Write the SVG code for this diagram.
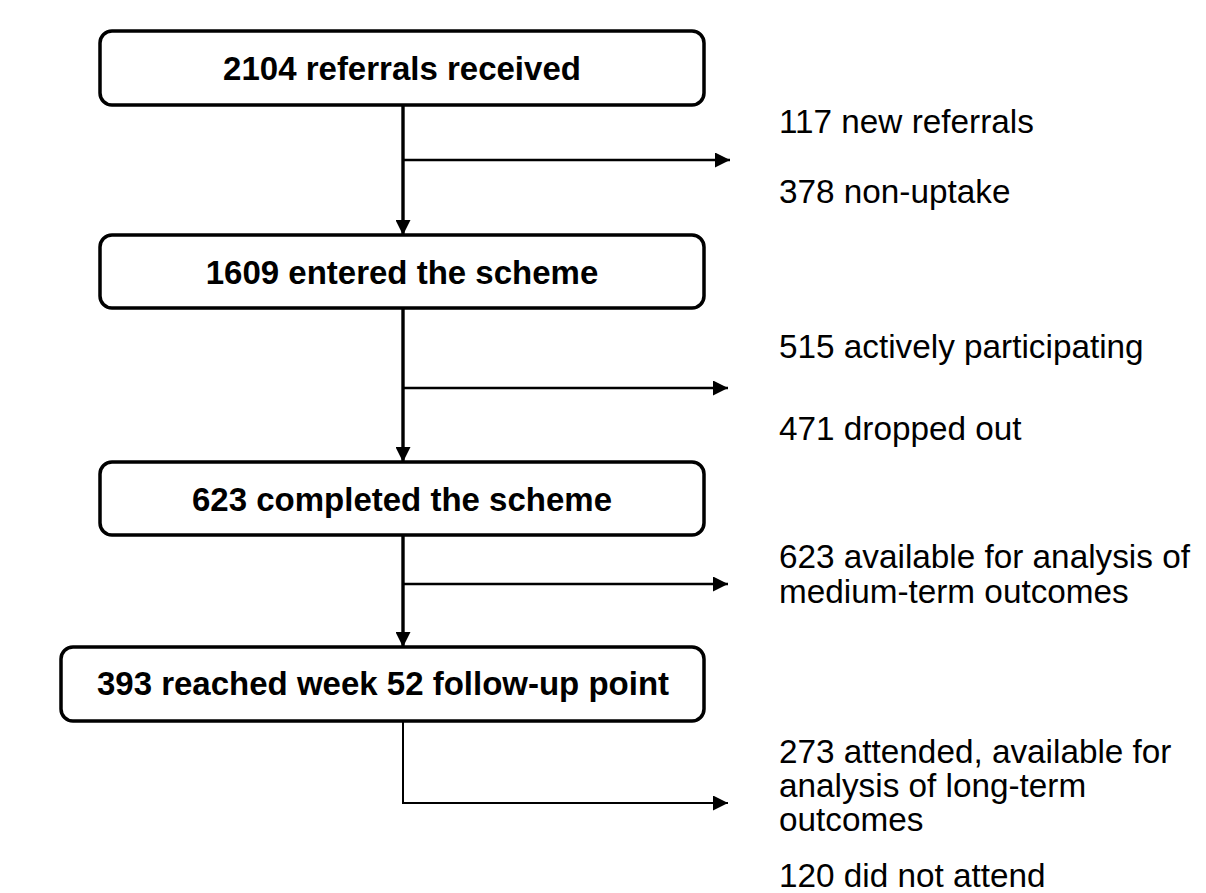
<svg xmlns="http://www.w3.org/2000/svg" width="1206" height="893" viewBox="0 0 1206 893">
  <defs>
    <marker id="arrow" viewBox="0 0 10 10" refX="10" refY="5" markerWidth="16" markerHeight="15" markerUnits="userSpaceOnUse" orient="auto">
      <path d="M0,0 L10,5 L0,10 Z" fill="#000"/>
    </marker>
    <style>
      .box { fill: #fff; stroke: #000; stroke-width: 3.5; }
      .title { font-family: "Liberation Sans", Arial, sans-serif; font-weight: bold; font-size: 33px; fill: #000; text-anchor: middle; }
      .label { font-family: "Liberation Sans", Arial, sans-serif; font-size: 33.3px; fill: #000; }
      .down { stroke: #000; stroke-width: 3.4; fill: none; }
      .side { stroke: #000; stroke-width: 2.6; fill: none; }
      .thin { stroke: #000; stroke-width: 2; fill: none; }
    </style>
  </defs>
  <rect width="1206" height="893" fill="#fff"/>

  <!-- connectors -->
  <g id="connectors">
    <line class="down" x1="403" y1="105" x2="403" y2="235" marker-end="url(#arrow)"/>
    <line class="side" x1="403" y1="160" x2="730" y2="160" marker-end="url(#arrow)"/>
    <line class="down" x1="403" y1="308" x2="403" y2="462" marker-end="url(#arrow)"/>
    <line class="side" x1="403" y1="388" x2="728" y2="388" marker-end="url(#arrow)"/>
    <line class="down" x1="403" y1="535" x2="403" y2="647" marker-end="url(#arrow)"/>
    <line class="side" x1="403" y1="584" x2="728" y2="584" marker-end="url(#arrow)"/>
    <polyline class="thin" points="403,721 403,803 728,803" marker-end="url(#arrow)"/>
  </g>

  <!-- main flow boxes -->
  <g id="node-referrals">
    <rect class="box" x="100" y="31" width="604" height="74" rx="12"/>
    <text class="title" x="402" y="80">2104 referrals received</text>
  </g>
  <g id="node-entered">
    <rect class="box" x="100" y="235" width="604" height="73" rx="12"/>
    <text class="title" x="402" y="284">1609 entered the scheme</text>
  </g>
  <g id="node-completed">
    <rect class="box" x="100" y="462" width="604" height="73" rx="12"/>
    <text class="title" x="402" y="511">623 completed the scheme</text>
  </g>
  <g id="node-week52">
    <rect class="box" x="61" y="647" width="643" height="74" rx="12"/>
    <text class="title" x="383" y="695">393 reached week 52 follow-up point</text>
  </g>

  <!-- side outcomes -->
  <g id="node-out-1">
    <text class="label" x="779" y="133">117 new referrals</text>
    <text class="label" x="779" y="203">378 non-uptake</text>
  </g>
  <g id="node-out-2">
    <text class="label" x="779" y="358">515 actively participating</text>
    <text class="label" x="779" y="440">471 dropped out</text>
  </g>
  <g id="node-out-3">
    <text class="label" x="779" y="568">623 available for analysis of</text>
    <text class="label" x="779" y="603">medium-term outcomes</text>
  </g>
  <g id="node-out-4">
    <text class="label" x="779" y="763">273 attended, available for</text>
    <text class="label" x="779" y="797">analysis of long-term</text>
    <text class="label" x="779" y="831">outcomes</text>
    <text class="label" x="779" y="887">120 did not attend</text>
  </g>
</svg>
